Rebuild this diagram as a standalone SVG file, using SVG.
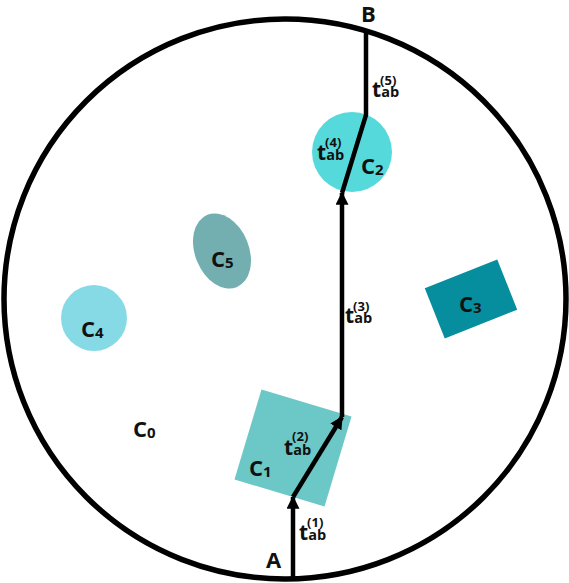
<svg xmlns="http://www.w3.org/2000/svg" width="569" height="583" viewBox="0 0 569 583">
<style>
.lbl{font-family:"Open Sans","Noto Sans",sans-serif;font-weight:700;fill:#111;}
.big{font-size:22px;}
.sub{font-size:15px;}
.tl{font-size:21px;}
.ab{font-size:14.5px;}
.sup{font-size:13px;}
.path{fill:none;stroke:#000;stroke-width:4.5;stroke-linejoin:miter;}
</style>
<defs>
<marker id="arr" viewBox="0 0 10 10" refX="9" refY="5" markerWidth="13" markerHeight="13" markerUnits="userSpaceOnUse" orient="auto">
<path d="M0,0 L10,5 L0,10 z" fill="#000"/>
</marker>
</defs>
<rect width="569" height="583" fill="#fff"/>
<g id="boundary">
<ellipse cx="285" cy="299" rx="281" ry="280" fill="none" stroke="#000" stroke-width="5.5"/>
</g>
<g id="C0"><text class="lbl big" x="133" y="437">C<tspan class="sub" dy="1">0</tspan></text></g>
<g id="C1">
<rect x="246" y="401" width="94" height="94" fill="#6CC7C7" transform="rotate(16.7 293 448)"/>
<text class="lbl big" x="249" y="476">C<tspan class="sub" dy="1">1</tspan></text>
</g>
<g id="C2">
<circle cx="352" cy="152" r="40" fill="#56D9DA"/>
<text class="lbl big" x="361" y="174">C<tspan class="sub" dy="1">2</tspan></text>
</g>
<g id="C3">
<rect x="432" y="272" width="78" height="54" fill="#068E9F" transform="rotate(-21.7 471 299)"/>
<text class="lbl big" x="459" y="312">C<tspan class="sub" dy="1">3</tspan></text>
</g>
<g id="C4">
<circle cx="94" cy="318" r="33" fill="#86DAE6"/>
<text class="lbl big" x="81" y="337">C<tspan class="sub" dy="1">4</tspan></text>
</g>
<g id="C5">
<ellipse cx="222" cy="251" rx="27" ry="39" fill="#73AEB1" transform="rotate(-22 222 251)"/>
<text class="lbl big" x="211" y="267">C<tspan class="sub" dy="1">5</tspan></text>
</g>
<g id="A"><text class="lbl big" x="266" y="568">A</text></g>
<g id="B"><text class="lbl big" x="361" y="22">B</text></g>
<g id="connectors">
<path class="path" d="M293,578 L293,497" marker-end="url(#arr)"/>
<path class="path" d="M293,497 L342,417" marker-end="url(#arr)"/>
<path class="path" d="M342,417 L342,193" marker-end="url(#arr)"/>
<path class="path" d="M342,193 L366,115 L366,30"/>
</g>
<g id="labels">
<text class="lbl tl" x="299" y="540">t<tspan class="ab">ab</tspan><tspan class="sup" dx="-19" dy="-13">(1)</tspan></text>
<text class="lbl tl" x="284" y="455">t<tspan class="ab">ab</tspan><tspan class="sup" dx="-19" dy="-14">(2)</tspan></text>
<text class="lbl tl" x="345" y="323">t<tspan class="ab">ab</tspan><tspan class="sup" dx="-19" dy="-12">(3)</tspan></text>
<text class="lbl tl" x="317" y="160">t<tspan class="ab">ab</tspan><tspan class="sup" dx="-19" dy="-13">(4)</tspan></text>
<text class="lbl tl" x="372" y="97">t<tspan class="ab">ab</tspan><tspan class="sup" dx="-19" dy="-12">(5)</tspan></text>
</g>
</svg>
